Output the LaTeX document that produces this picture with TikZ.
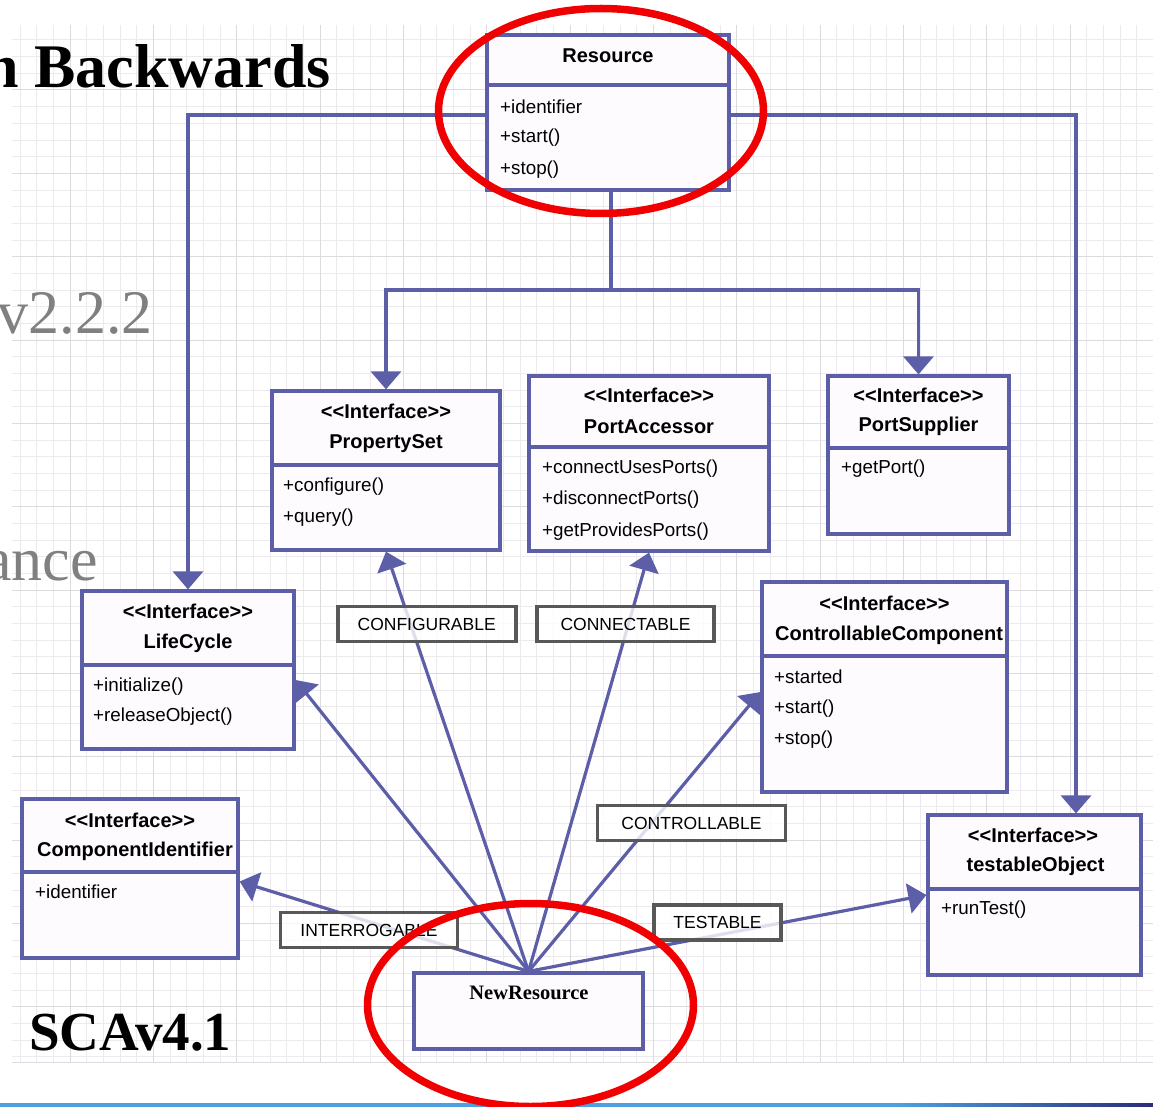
\documentclass[tikz,border=0pt]{standalone}
\usepackage{fontspec}
\setmainfont{Liberation Serif}
\setsansfont{Liberation Sans}
\usetikzlibrary{arrows.meta}
\definecolor{umlblue}{RGB}{92,94,168}
\definecolor{classfill}{RGB}{254,251,254}
\definecolor{lblgray}{RGB}{88,88,88}
\definecolor{gridfine}{RGB}{236,234,238}
\definecolor{gridbold}{RGB}{222,219,224}
\definecolor{titlegray}{RGB}{128,128,128}
\definecolor{barblue}{RGB}{76,160,224}
\definecolor{barnavy}{RGB}{44,44,120}
\definecolor{ringred}{RGB}{240,0,0}
\newcommand{\iface}{<\kern0pt<Interface>\kern0pt>}

\begin{document}
\begin{tikzpicture}[x=1pt, y=-1pt,
  umlbox/.style={draw=umlblue, line width=3.2pt, fill=classfill, inner sep=0pt},
  divider/.style={draw=umlblue, line width=3.2pt},
  hdr/.style={inner sep=0pt, font=\sffamily\bfseries\fontsize{20}{20}\selectfont},
  member/.style={inner sep=0pt, anchor=west, font=\sffamily\fontsize{18.8}{18.8}\selectfont},
  realize/.style={draw=umlblue, line width=3.2pt, -{Triangle[width=30pt,length=18pt]}},
  lbl/.style={draw=lblgray, line width=3.6pt, fill=white, fill opacity=0.8, text opacity=1, inner sep=0pt, minimum height=35, font=\sffamily\fontsize{17.5}{17.5}\selectfont},
  gridline/.style={draw=gridfine, line width=1pt},
  gridmajor/.style={draw=gridbold, line width=1pt},
  ring/.style={draw=ringred, line width=7.5pt}]
\useasboundingbox (0,0) rectangle (1153,1107);

\begin{scope}
\clip (12,25) rectangle (1153,1062);
\foreach \x in {20,36.667,...,1160} \draw[gridline] (\x,25) -- (\x,1062);
\foreach \y in {23.333,40,...,1070} \draw[gridline] (12,\y) -- (1153,\y);
\foreach \x in {70,153.333,...,1160} \draw[gridmajor] (\x,25) -- (\x,1062);
\foreach \y in {90,173.333,...,1070} \draw[gridmajor] (12,\y) -- (1153,\y);
\end{scope}
\draw[gridmajor] (12,1062) -- (1153,1062);
\fill[barblue] (0,1103) rectangle (900,1107);
\shade[left color=barblue, right color=barnavy] (899,1103) rectangle (1153,1107);

\node[umlbox, minimum width=242, minimum height=155] (resource) at (608,112.5) {};
\draw[divider] (487,85) -- (729,85);
\node[hdr] (resname) at (608,56) {Resource};
\node[member] (resid) at (500,106.5) {+identifier};
\node[member] (resstart) at (500,138) {+start()};
\node[member] (resstop) at (500,170) {+stop()};

\node[umlbox, minimum width=228, minimum height=159] (propset) at (386,470.5) {};
\draw[divider] (272,465) -- (500,465);
\node[hdr] (propster) at (386,411.7) {\iface};
\node[hdr] (propname) at (386,443.3) {PropertySet};
\node[member] (propconf) at (283,486.7) {+configure()};
\node[member] (propquery) at (283,518) {+query()};

\node[umlbox, minimum width=240, minimum height=175] (portacc) at (649,463.5) {};
\draw[divider] (529,447) -- (769,447);
\node[hdr] (accster) at (649,395) {\iface};
\node[hdr] (accname) at (649,426.7) {PortAccessor};
\node[member] (accconn) at (542,468.3) {+connectUsesPorts()};
\node[member] (accdisc) at (542,500) {+disconnectPorts()};
\node[member] (accprov) at (542,531.7) {+getProvidesPorts()};

\node[umlbox, minimum width=181, minimum height=158] (portsup) at (918.5,455) {};
\draw[divider] (828,448) -- (1009,448);
\node[hdr] (supster) at (918.5,395) {\iface};
\node[hdr] (supname) at (918.5,426.7) {PortSupplier};
\node[member] (supget) at (841,468.3) {+getPort()};

\node[umlbox, minimum width=212, minimum height=158] (lifecycle) at (188,670) {};
\draw[divider] (82,665) -- (294,665);
\node[hdr] (lifester) at (188,611.7) {\iface};
\node[hdr] (lifename) at (188,643.3) {LifeCycle};
\node[member] (lifeinit) at (93,686.7) {+initialize()};
\node[member] (liferel) at (93,716.7) {+releaseObject()};

\node[umlbox, minimum width=245, minimum height=210] (ctrlcomp) at (884.5,687) {};
\draw[divider] (762,656) -- (1007,656);
\node[hdr] (ctrlster) at (884.5,603.3) {\iface};
\node[hdr] (ctrlname) at (889,635) {ControllableComponent};
\node[member] (ctrlstarted) at (774,676.7) {+started};
\node[member] (ctrlstart) at (774,708.3) {+start()};
\node[member] (ctrlstop) at (774,740) {+stop()};

\node[umlbox, minimum width=216, minimum height=159] (compid) at (130,878.5) {};
\draw[divider] (22,872) -- (238,872);
\node[hdr] (idster) at (130,820) {\iface};
\node[hdr] (idname) at (135,851.7) {ComponentIdentifier};
\node[member] (idattr) at (35,891.7) {+identifier};

\node[umlbox, minimum width=213, minimum height=160] (testobj) at (1034.5,895) {};
\draw[divider] (928,889) -- (1141,889);
\node[hdr] (testster) at (1033,835) {\iface};
\node[hdr] (testname) at (1035.5,866.7) {testableObject};
\node[member] (testrun) at (941,910) {+runTest()};

\node[umlbox, minimum width=229, minimum height=76] (newres) at (528.5,1011) {};
\node[inner sep=0pt, font=\bfseries\fontsize{20.5}{20.5}\selectfont] (newname) at (529,993) {NewResource};

\draw[realize] ([yshift=-2.5pt]resource.west) -| (lifecycle.north);
\draw[realize] ([yshift=-2.5pt]resource.east) -| ([xshift=41.5pt]testobj.north);
\coordinate (fork) at (611,290);
\draw[divider] ([xshift=3pt]resource.south) -- (fork);
\draw[realize] (fork) -| (propset.north);
\draw[realize] (fork) -| (portsup.north);

\draw[realize] (newres.north) -- ([yshift=-10pt]lifecycle.east);
\draw[realize] (newres.north) -- (propset.south);
\draw[realize] (newres.north) -- (portacc.south);
\draw[realize] (newres.north) -- ([yshift=-5pt]ctrlcomp.west);
\draw[realize] (newres.north) -- ([yshift=-3pt]compid.east);
\draw[realize] (newres.north) -- (testobj.west);

\node[lbl, minimum width=178] (configurable) at (426.7,624) {CONFIGURABLE};
\node[lbl, minimum width=177] (connectable) at (625.5,624) {CONNECTABLE};
\node[lbl, minimum width=188] (controllable) at (691.5,823) {CONTROLLABLE};
\node[lbl, minimum width=177] (interrogable) at (369,930) {INTERROGABLE};
\node[lbl, minimum width=127] (testable) at (717.5,922.5) {TESTABLE};

\node[anchor=base east, inner sep=0pt, font=\bfseries\fontsize{62}{62}\selectfont] (heading) at (331,88) {n Backwards};
\node[anchor=base east, inner sep=0pt, text=titlegray, font=\fontsize{62}{62}\selectfont] (oldver) at (153,333) {v2.2.2};
\node[anchor=base east, inner sep=0pt, text=titlegray, font=\fontsize{62}{62}\selectfont] (compliance) at (98,580) {ance};
\node[anchor=base west, inner sep=0pt, font=\bfseries\fontsize{55}{55}\selectfont] (newver) at (29,1050) {SCAv4.1};

\draw[ring] (601,111) ellipse [x radius=162.5pt, y radius=102.5pt];
\draw[ring] (530.5,1005) ellipse [x radius=163pt, y radius=101.5pt];
\end{tikzpicture}
\end{document}
